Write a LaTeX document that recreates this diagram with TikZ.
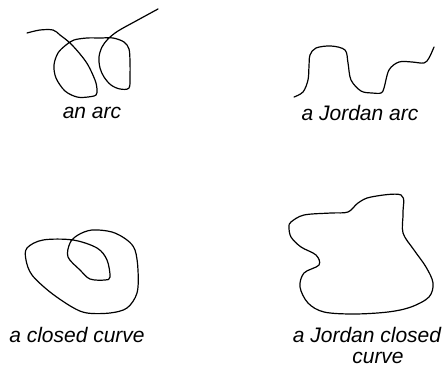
\documentclass[tikz,border=0pt]{standalone}
\usepackage{fontspec}
\setmainfont{Liberation Sans}
\usepackage{tikz}

\begin{document}
\begin{tikzpicture}[
    x=1pt, y=-1pt,
    curve/.style={draw, line width=1.2pt, line join=round, line cap=round},
    caption/.style={font=\fontsize{21}{24}\selectfont\itshape, inner sep=0pt}
  ]
  \useasboundingbox (0,0) rectangle (442,367);
  % an arc
  \draw[curve] plot[smooth, tension=0.55] coordinates {
    (27,33) (40,30) (53,30) (60,35) (70,43) (80,54) (88,65) (95,80) (97,89) (96,95)
    (88,97) (77,97) (65,91) (56,78) (54,65) (58,53) (66,45) (74,40) (87,38)
    (100,38) (113,38) (124,42) (129,49) (130,62) (130,76) (129,88) (120,89)
    (111,85) (104,77) (100,68) (99,57) (102,47) (108,39) (118,31) (136,21) (158,9)};
  \node[caption] (arclabel) at (92,113) {an arc};
  % a Jordan arc
  \draw[curve] plot[smooth, tension=0.55] coordinates {
    (294,97) (303,92) (308,80) (309,66) (310,55) (316,48) (331,46) (345,50)
    (348,63) (351,80) (361,91) (372,93) (381,93) (384,88) (389,70) (399,62)
    (412,62) (424,63) (429,58) (434,47)};
  \node[caption] (jarclabel) at (360,113) {a Jordan arc};
  % a closed curve
  \draw[curve] plot[smooth cycle, tension=0.55] coordinates {
    (27,248) (43,240) (73,240) (97,248) (107,260) (110,277) (105,280) (90,279)
    (80,270) (68,257) (70,243) (78,235) (92,230) (112,232) (127,240) (135,250)
    (138,270) (137,293) (127,308) (110,313) (87,313) (72,307) (50,292) (32,275)
    (26,260)};
  \node[caption] (closedlabel) at (77,335) {a closed curve};
  % a Jordan closed curve
  \draw[curve] plot[smooth cycle, tension=0.55] coordinates {
    (291,222) (304,215) (331,213) (348,212) (358,203) (371,197) (401,195)
    (403,213) (403,233) (414,250) (426,267) (433,283) (429,297) (411,307)
    (388,312) (354,314) (324,312) (308,303) (300,287) (304,273) (319,265)
    (316,255) (301,247) (291,237) (289,227)};
  \node[caption] (jclosedlabel) at (367,335) {a Jordan closed};
  \node[caption] (jclosedlabelb) at (378,358) {curve};
\end{tikzpicture}
\end{document}
